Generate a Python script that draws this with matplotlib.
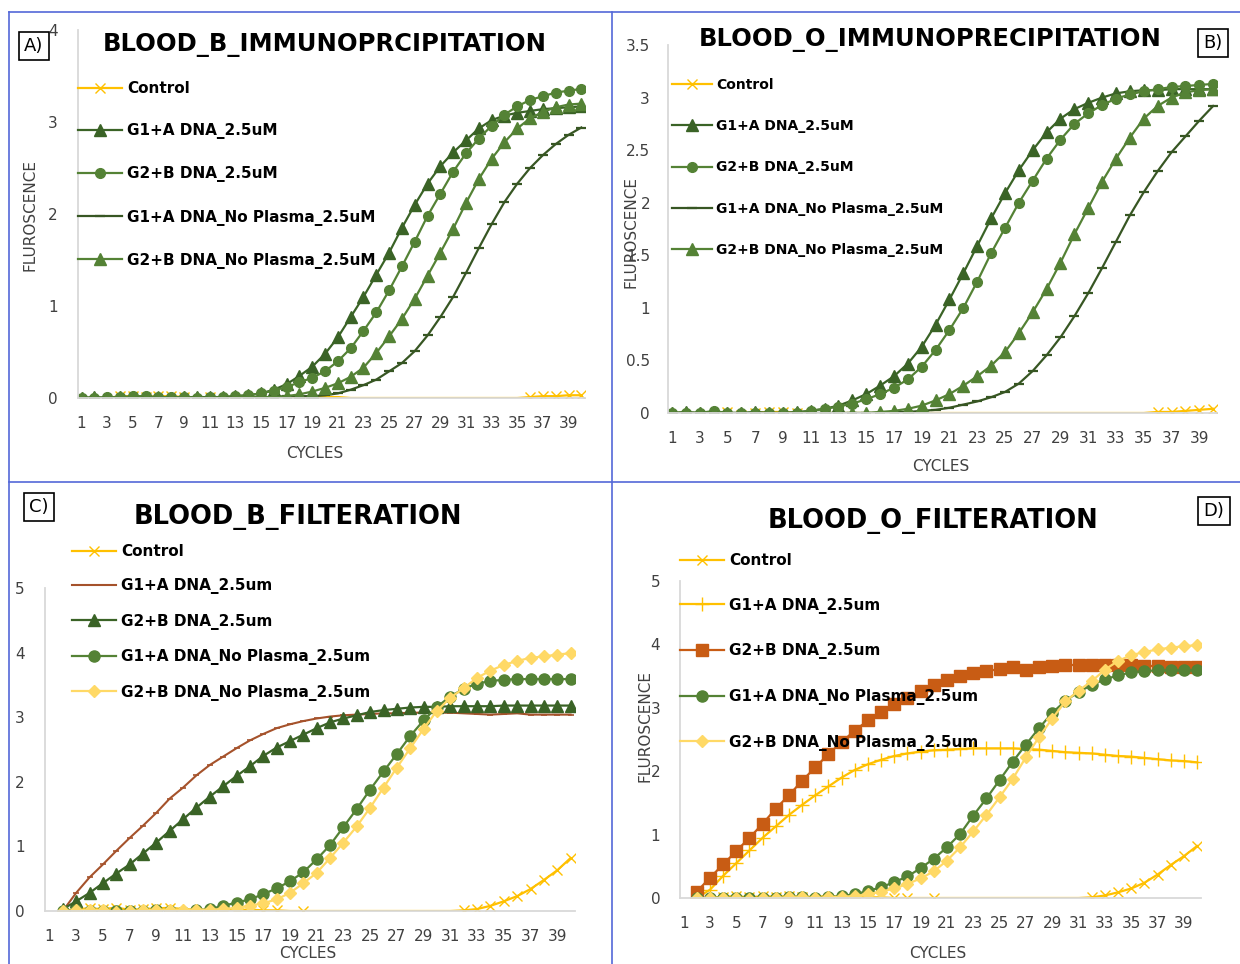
import numpy as np
import matplotlib
matplotlib.use("Agg")
import matplotlib.pyplot as plt
from matplotlib.lines import Line2D

nan = np.nan

# ---- data (fluorescence per cycle, cycles 1..40) ----
cycles = list(range(1, 41))
tick_cycles = list(range(1, 40, 2))

# A) BLOOD_B_IMMUNOPRCIPITATION
a_control = [0.0, 0.0, 0.0, 0.02, 0.02, 0.01, 0.02, 0.02, 0.01, 0.0,
             0.01, 0.0, 0.0, 0.0, 0.0, 0.0, 0.0, 0.01, 0.01, 0.01,
             0.01, 0.0, 0.0, 0.0, 0.0, 0.0, 0.0, 0.0, 0.0, 0.0,
             0.0, 0.0, 0.0, 0.0, 0.0, 0.01, 0.02, 0.02, 0.03, 0.03]
a_g1a = [0.0, 0.01, 0.0, 0.01, 0.0, 0.01, 0.0, 0.0, 0.01, 0.01,
         0.01, 0.01, 0.02, 0.03, 0.05, 0.09, 0.15, 0.24, 0.34, 0.48,
         0.66, 0.88, 1.10, 1.34, 1.58, 1.85, 2.10, 2.33, 2.52, 2.67,
         2.80, 2.93, 3.02, 3.07, 3.10, 3.12, 3.14, 3.15, 3.16, 3.17]
a_g2b = [0.0, 0.0, 0.01, 0.01, 0.02, 0.02, 0.01, 0.01, 0.01, 0.0,
         0.01, 0.01, 0.02, 0.03, 0.05, 0.08, 0.12, 0.17, 0.22, 0.29,
         0.40, 0.54, 0.73, 0.93, 1.17, 1.43, 1.70, 1.98, 2.22, 2.46,
         2.66, 2.82, 2.96, 3.08, 3.17, 3.24, 3.28, 3.32, 3.34, 3.36]
a_g1a_np = [0.0, 0.0, 0.0, 0.0, 0.0, 0.0, 0.0, 0.0, 0.0, 0.0,
            0.0, 0.0, 0.01, 0.01, 0.01, 0.01, 0.02, 0.02, 0.02, 0.03,
            0.05, 0.09, 0.14, 0.20, 0.29, 0.38, 0.51, 0.68, 0.88, 1.10,
            1.36, 1.63, 1.89, 2.13, 2.33, 2.50, 2.64, 2.76, 2.86, 2.94]
a_g2b_np = [0.0, 0.0, 0.0, 0.01, 0.01, 0.0, 0.01, 0.0, 0.01, 0.0,
            0.0, 0.0, 0.01, 0.01, 0.01, 0.01, 0.02, 0.04, 0.07, 0.11,
            0.16, 0.23, 0.33, 0.49, 0.67, 0.86, 1.08, 1.33, 1.58, 1.84,
            2.12, 2.38, 2.60, 2.78, 2.93, 3.04, 3.11, 3.16, 3.19, 3.20]

# B) BLOOD_O_IMMUNOPRECIPITATION
b_control = [0.0, 0.0, 0.0, 0.0, 0.01, -0.02, 0.0, 0.01, 0.01, 0.0,
             -0.01, 0.0, 0.0, 0.0, 0.0, 0.0, 0.0, 0.0, 0.0, 0.0,
             0.0, 0.0, 0.0, 0.0, 0.0, 0.0, 0.0, 0.0, 0.0, 0.0,
             0.0, 0.0, 0.0, 0.0, 0.0, 0.01, 0.01, 0.02, 0.03, 0.04]
b_g1a = [0.0, 0.01, 0.0, 0.01, 0.0, 0.0, 0.01, 0.0, 0.0, 0.01,
         0.02, 0.04, 0.07, 0.12, 0.18, 0.26, 0.35, 0.47, 0.63, 0.84,
         1.08, 1.33, 1.59, 1.85, 2.09, 2.31, 2.50, 2.67, 2.80, 2.89,
         2.95, 3.00, 3.04, 3.06, 3.07, 3.07, 3.08, 3.08, 3.08, 3.08]
b_g2b = [0.0, 0.0, 0.0, 0.02, 0.0, 0.0, 0.0, 0.0, 0.0, 0.0,
         0.02, 0.04, 0.06, 0.09, 0.13, 0.18, 0.24, 0.32, 0.44, 0.60,
         0.79, 1.00, 1.25, 1.52, 1.76, 2.00, 2.21, 2.42, 2.60, 2.75,
         2.85, 2.93, 2.99, 3.03, 3.06, 3.08, 3.10, 3.11, 3.12, 3.13]
b_g1a_np = [0.0, 0.0, 0.0, 0.0, 0.0, 0.0, 0.0, 0.0, 0.0, 0.0,
            0.0, 0.0, 0.0, 0.0, 0.0, 0.0, 0.01, 0.01, 0.02, 0.03,
            0.05, 0.08, 0.11, 0.15, 0.20, 0.28, 0.40, 0.55, 0.72, 0.92,
            1.14, 1.38, 1.63, 1.88, 2.10, 2.30, 2.48, 2.63, 2.78, 2.92]
b_g2b_np = [0.0, 0.0, 0.0, 0.0, 0.0, 0.0, 0.0, 0.0, 0.0, 0.0,
            0.0, 0.0, 0.0, 0.0, 0.0, 0.01, 0.02, 0.04, 0.07, 0.12,
            0.18, 0.26, 0.35, 0.45, 0.58, 0.76, 0.96, 1.18, 1.43, 1.70,
            1.95, 2.20, 2.42, 2.62, 2.80, 2.92, 3.00, 3.05, 3.07, 3.08]

# C) BLOOD_B_FILTERATION (no reading at cycle 1)
c_control = [nan, 0.0, 0.03, 0.04, 0.03, 0.05, 0.02, 0.03, 0.04, 0.05,
             0.03, 0.02, 0.02, 0.03, 0.02, 0.02, 0.01, 0.01, 0.0, 0.0,
             0.0, 0.0, 0.0, 0.0, 0.0, 0.0, 0.0, 0.0, 0.0, 0.0,
             0.0, 0.01, 0.03, 0.08, 0.15, 0.23, 0.34, 0.48, 0.63, 0.82]
c_g1a = [nan, 0.0, 0.28, 0.52, 0.72, 0.93, 1.13, 1.32, 1.52, 1.74,
         1.91, 2.10, 2.26, 2.39, 2.52, 2.64, 2.74, 2.83, 2.89, 2.94,
         2.98, 3.01, 3.03, 3.04, 3.05, 3.06, 3.06, 3.07, 3.07, 3.07,
         3.07, 3.06, 3.05, 3.04, 3.05, 3.06, 3.04, 3.04, 3.04, 3.04]
c_g2b = [nan, 0.03, 0.15, 0.28, 0.43, 0.58, 0.72, 0.89, 1.06, 1.24,
         1.42, 1.60, 1.77, 1.93, 2.09, 2.24, 2.40, 2.53, 2.63, 2.73,
         2.83, 2.92, 2.98, 3.03, 3.08, 3.11, 3.13, 3.15, 3.16, 3.16,
         3.17, 3.17, 3.17, 3.17, 3.18, 3.18, 3.18, 3.18, 3.18, 3.18]
c_g1a_np = [nan, 0.0, 0.02, 0.0, 0.0, 0.0, 0.0, 0.0, 0.01, 0.0,
            -0.01, 0.01, 0.03, 0.08, 0.13, 0.18, 0.26, 0.35, 0.46, 0.60,
            0.80, 1.02, 1.30, 1.58, 1.88, 2.16, 2.43, 2.71, 2.95, 3.16,
            3.32, 3.44, 3.52, 3.56, 3.58, 3.59, 3.59, 3.59, 3.59, 3.59]
c_g2b_np = [nan, 0.0, 0.01, 0.02, 0.01, -0.01, 0.0, 0.01, 0.02, 0.02,
            0.02, 0.02, 0.02, 0.03, 0.05, 0.08, 0.12, 0.18, 0.28, 0.43,
            0.59, 0.82, 1.06, 1.31, 1.60, 1.91, 2.22, 2.52, 2.82, 3.10,
            3.30, 3.45, 3.61, 3.72, 3.81, 3.87, 3.92, 3.94, 3.97, 3.99]

# D) BLOOD_O_FILTERATION (no reading at cycle 1)
d_control = [nan, 0.0, 0.0, 0.02, 0.03, 0.01, 0.03, 0.02, 0.03, 0.02,
             0.02, 0.03, 0.02, 0.01, 0.01, 0.01, 0.0, 0.0, 0.0, 0.0,
             0.0, 0.0, 0.0, 0.0, 0.0, 0.0, 0.0, 0.0, 0.0, 0.0,
             0.0, 0.01, 0.04, 0.09, 0.15, 0.24, 0.37, 0.52, 0.66, 0.82]
d_g1a = [nan, 0.0, 0.13, 0.35, 0.55, 0.75, 0.95, 1.13, 1.31, 1.47,
         1.62, 1.76, 1.90, 2.02, 2.11, 2.18, 2.24, 2.28, 2.31, 2.33,
         2.34, 2.35, 2.36, 2.36, 2.36, 2.36, 2.35, 2.34, 2.32, 2.30,
         2.29, 2.28, 2.26, 2.24, 2.23, 2.21, 2.19, 2.17, 2.16, 2.14]
d_g2b = [nan, 0.10, 0.32, 0.53, 0.74, 0.95, 1.17, 1.41, 1.62, 1.85,
         2.06, 2.27, 2.46, 2.64, 2.80, 2.94, 3.06, 3.16, 3.26, 3.36,
         3.44, 3.50, 3.55, 3.58, 3.61, 3.64, 3.59, 3.65, 3.66, 3.67,
         3.68, 3.68, 3.68, 3.68, 3.67, 3.66, 3.66, 3.65, 3.65, 3.65]
d_g1a_np = [nan, 0.0, 0.0, 0.0, 0.0, 0.0, 0.0, 0.0, 0.01, 0.01,
            0.0, 0.01, 0.03, 0.06, 0.11, 0.17, 0.25, 0.34, 0.47, 0.62,
            0.80, 1.01, 1.30, 1.57, 1.86, 2.15, 2.42, 2.68, 2.92, 3.11,
            3.25, 3.36, 3.45, 3.51, 3.56, 3.58, 3.59, 3.59, 3.59, 3.59]
d_g2b_np = [nan, 0.0, 0.0, 0.0, 0.0, -0.01, 0.0, 0.0, 0.01, 0.01,
            0.0, 0.01, 0.02, 0.03, 0.06, 0.10, 0.15, 0.22, 0.31, 0.42,
            0.59, 0.80, 1.05, 1.31, 1.59, 1.88, 2.22, 2.54, 2.83, 3.10,
            3.27, 3.42, 3.60, 3.74, 3.83, 3.88, 3.92, 3.95, 3.97, 3.99]

# control markers that show in the original (cycle numbers)
a_ctrl_marks = [4, 5, 6, 7, 8, 9, 11, 36, 37, 38, 39, 40]
b_ctrl_marks = [5, 6, 7, 8, 9, 10, 11, 36, 37, 38, 39, 40]
c_ctrl_marks = [3, 4, 5, 6, 7, 8, 9, 10, 14, 15, 16, 17, 18, 20,
                32, 33, 34, 35, 36, 37, 38, 39, 40]
d_ctrl_marks = [4, 5, 6, 7, 8, 9, 10, 14, 15, 16, 17, 18, 20,
                32, 33, 34, 35, 36, 37, 38, 39, 40]

# ---- colours ----
YELLOW = "#FFC000"
LIGHT_YELLOW = "#FFD966"
DARK_GREEN = "#3A6326"
DARKEST_GREEN = "#375623"
MID_GREEN = "#548235"
BROWN = "#A5522B"
ORANGE = "#C85C14"
BORDER = "#5468D8"

W, H = 1240, 964
plt.rcParams["font.family"] = "DejaVu Sans"
fig = plt.figure(figsize=(W / 100, H / 100), dpi=100)


def fx(x):
    return x / W


def fy(y):
    return 1 - y / H


def make_axes(x0, x1, ytop, ybot):
    return fig.add_axes([fx(x0), fy(ybot), (x1 - x0) / W, (ybot - ytop) / H])


def style_axes(ax, ylim, yticks, ylabels, ypad):
    ax.set_xlim(0.7, 40.3)
    ax.set_ylim(*ylim)
    ax.set_xticks(tick_cycles)
    ax.set_xticklabels([str(c) for c in tick_cycles])
    ax.set_yticks(yticks)
    ax.set_yticklabels(ylabels)
    for s in ["top", "right"]:
        ax.spines[s].set_visible(False)
    for s in ["left", "bottom"]:
        ax.spines[s].set_color("#D9D9D9")
        ax.spines[s].set_linewidth(1.3)
    ax.tick_params(length=0, labelsize=11, labelcolor="#404040")
    ax.tick_params(axis="x", pad=13)
    ax.tick_params(axis="y", pad=ypad)
    ax.patch.set_alpha(0)


def draw_series(ax, series, legend_xy, fsize, spacing):
    handles = []
    for label, values, style, marks in series:
        kw = dict(style)
        if marks is not None:
            kw["markevery"] = [c - 1 for c in marks]
        ax.plot(cycles, values, **kw)
        handles.append(Line2D([], [], **style))
    labels = [s[0] for s in series]
    ax.legend(handles, labels, loc="upper left",
              bbox_to_anchor=(fx(legend_xy[0]), fy(legend_xy[1])),
              bbox_transform=fig.transFigure, frameon=False,
              prop=dict(family="DejaVu Sans", weight="bold", size=fsize),
              handlelength=2.9, handletextpad=0.3, labelspacing=spacing,
              borderpad=0, borderaxespad=0)


def panel_text(title, tpos, tsize, letter, lpos, xlpos, ylpos):
    fig.text(fx(tpos[0]), fy(tpos[1]), title, ha="center", va="center",
             fontsize=tsize, fontweight="bold", color="black")
    fig.text(fx(lpos[0]), fy(lpos[1]), letter, ha="center", va="center",
             fontsize=13, color="black",
             bbox=dict(boxstyle="square,pad=0.3", fc="white", ec="black", lw=1.2))
    fig.text(fx(xlpos[0]), fy(xlpos[1]), "CYCLES", ha="center", va="center",
             fontsize=11, color="#404040")
    if ylpos is not None:
        fig.text(fx(ylpos[0]), fy(ylpos[1]), "FLUROSCENCE", ha="center",
                 va="center", rotation=90, fontsize=11, color="#404040")


lw = 1.6
ctrl_style = dict(color=YELLOW, lw=lw, marker="x", ms=7, mew=1.0)

# ---- A ----
axA = make_axes(77.7, 585.2, 30, 398)
style_axes(axA, (0, 4), [0, 1, 2, 3, 4], ["0", "1", "2", "3", "4"], 14.5)
draw_series(axA, [
    ("Control", a_control, ctrl_style, a_ctrl_marks),
    ("G1+A DNA_2.5uM", a_g1a, dict(color=DARK_GREEN, lw=lw, marker="^", ms=8), None),
    ("G2+B DNA_2.5uM", a_g2b, dict(color=MID_GREEN, lw=lw, marker="o", ms=7), None),
    ("G1+A DNA_No Plasma_2.5uM", a_g1a_np,
     dict(color=DARKEST_GREEN, lw=lw, marker="_", ms=7, mew=1.6), None),
    ("G2+B DNA_No Plasma_2.5uM", a_g2b_np, dict(color=MID_GREEN, lw=lw, marker="^", ms=8), None),
], (78, 81), 11, 1.78)
panel_text("BLOOD_B_IMMUNOPRCIPITATION", (325, 45), 17.5, "A)", (34, 46),
           (315, 453), (30, 215))

# ---- B ----
axB = make_axes(667.8, 1217.3, 45, 413)
style_axes(axB, (0, 3.5), [0, 0.5, 1, 1.5, 2, 2.5, 3, 3.5],
           ["0", "0.5", "1", "1.5", "2", "2.5", "3", "3.5"], 12.8)
draw_series(axB, [
    ("Control", b_control, ctrl_style, b_ctrl_marks),
    ("G1+A DNA_2.5uM", b_g1a, dict(color=DARK_GREEN, lw=lw, marker="^", ms=8), None),
    ("G2+B DNA_2.5uM", b_g2b, dict(color=MID_GREEN, lw=lw, marker="o", ms=7), None),
    ("G1+A DNA_No Plasma_2.5uM", b_g1a_np,
     dict(color=DARKEST_GREEN, lw=lw, marker="_", ms=7, mew=1.6), None),
    ("G2+B DNA_No Plasma_2.5uM", b_g2b_np, dict(color=MID_GREEN, lw=lw, marker="^", ms=8), None),
], (672, 78), 10, 1.96)
panel_text("BLOOD_O_IMMUNOPRECIPITATION", (930, 40), 17.5, "B)", (1213, 43),
           (941, 466), (631, 232))

# ---- C ----
axC = make_axes(45.4, 574.6, 588, 911)
style_axes(axC, (0, 5), [0, 1, 2, 3, 4, 5], ["0", "1", "2", "3", "4", "5"], 15)
draw_series(axC, [
    ("Control", c_control, ctrl_style, c_ctrl_marks),
    ("G1+A DNA_2.5um", c_g1a, dict(color=BROWN, lw=1.5, marker="_", ms=4, mew=1.2), None),
    ("G2+B DNA_2.5um", c_g2b, dict(color=DARK_GREEN, lw=lw, marker="^", ms=8.5), None),
    ("G1+A DNA_No Plasma_2.5um", c_g1a_np, dict(color=MID_GREEN, lw=lw, marker="o", ms=8), None),
    ("G2+B DNA_No Plasma_2.5um", c_g2b_np, dict(color=LIGHT_YELLOW, lw=lw, marker="D", ms=6.5), None),
], (72, 544), 11, 1.27)
panel_text("BLOOD_B_FILTERATION", (298, 517), 18.5, "C)", (39, 507),
           (308, 953), None)

# ---- D ----
axD = make_axes(679.7, 1201.0, 581, 898)
style_axes(axD, (0, 5), [0, 1, 2, 3, 4, 5], ["0", "1", "2", "3", "4", "5"], 14)
draw_series(axD, [
    ("Control", d_control, ctrl_style, d_ctrl_marks),
    ("G1+A DNA_2.5um", d_g1a, dict(color=YELLOW, lw=lw, marker="+", ms=10, mew=1.0), None),
    ("G2+B DNA_2.5um", d_g2b, dict(color=ORANGE, lw=lw, marker="s", ms=8.5), None),
    ("G1+A DNA_No Plasma_2.5um", d_g1a_np, dict(color=MID_GREEN, lw=lw, marker="o", ms=8), None),
    ("G2+B DNA_No Plasma_2.5um", d_g2b_np, dict(color=LIGHT_YELLOW, lw=lw, marker="D", ms=6.5), None),
], (680, 553), 11, 1.94)
panel_text("BLOOD_O_FILTERATION", (933, 521), 18.5, "D)", (1214, 511),
           (938, 953), (645, 726))

# ---- panel borders ----
for x0, y0, x1, y1 in [(9, 12, 1240, 12), (9, 12, 9, 964), (612, 12, 612, 964),
                       (9, 482, 1240, 482)]:
    fig.add_artist(Line2D([fx(x0), fx(x1)], [fy(y0), fy(y1)],
                          transform=fig.transFigure, color=BORDER, lw=1.2))

fig.savefig("out.png", dpi=100)
